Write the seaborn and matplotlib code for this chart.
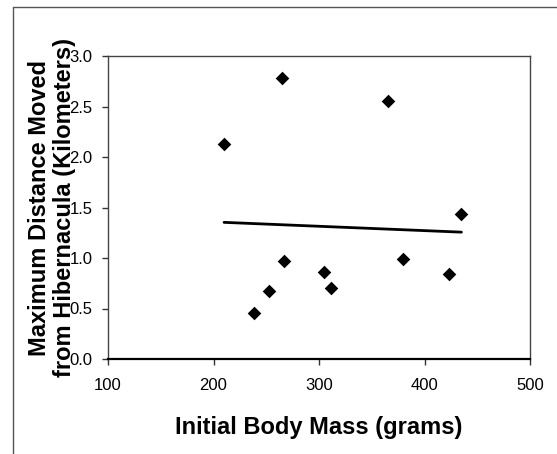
import matplotlib
matplotlib.use("Agg")
import matplotlib.pyplot as plt
from matplotlib.lines import Line2D
import seaborn as sns
import pandas as pd
import numpy as np

# Data
body_mass = [210, 265, 365, 435, 267, 305, 253, 238, 311, 380, 423]
max_distance = [2.13, 2.78, 2.55, 1.44, 0.97, 0.86, 0.67, 0.46, 0.70, 0.99, 0.84]
x_ticks = [100, 200, 300, 400, 500]
y_ticks = [0.0, 0.5, 1.0, 1.5, 2.0, 2.5, 3.0]

df = pd.DataFrame({"mass": body_mass, "dist": max_distance})

sns.set_theme(style="white")
plt.rcParams['font.family'] = ['Liberation Sans', 'DejaVu Sans']

W, H = 557, 454
fig = plt.figure(figsize=(W / 100, H / 100), dpi=100)
ax = fig.add_axes([108 / W, 1 - 359 / H, (530 - 108) / W, (359 - 56) / H])

sns.regplot(data=df, x="mass", y="dist", scatter=False, ci=None, ax=ax,
            line_kws=dict(color="black", lw=2.0))
sns.scatterplot(data=df, x="mass", y="dist", marker="D", s=48, color="black",
                edgecolor="black", linewidth=0, ax=ax, zorder=3)

ax.set_xlim(100, 500)
ax.set_ylim(0, 3.0)
ax.set_xticks(x_ticks)
ax.set_yticks(y_ticks)
ax.set_xticklabels([str(v) for v in x_ticks])
ax.set_yticklabels([f"{v:.1f}" for v in y_ticks])
ax.tick_params(axis="both", direction="out", length=4, width=1, color="#333333",
               labelsize=12, labelcolor="black", left=True, bottom=True)
ax.tick_params(axis="x", pad=10)
ax.tick_params(axis="y", pad=7)

for side in ["top", "right", "left"]:
    ax.spines[side].set_visible(True)
    ax.spines[side].set_color("#444444")
    ax.spines[side].set_linewidth(1.0)
ax.spines["bottom"].set_color("black")
ax.spines["bottom"].set_linewidth(1.6)

ax.set_xlabel("Initial Body Mass (grams)", fontsize=17, fontweight="bold",
              labelpad=16.5, color="black")
ax.set_ylabel("Maximum Distance Moved\nfrom Hibernacula (Kilometers)",
              fontsize=17, fontweight="bold", color="black", linespacing=1.1)
ax.yaxis.set_label_coords(-(108 - 76) / 422, 0.5)

# outer frame lines (partial border of the original figure)
fig.add_artist(Line2D([13 / W, 13 / W], [0, 1 - 7 / H], transform=fig.transFigure,
                      color="#555555", lw=1))
fig.add_artist(Line2D([13 / W, 1], [1 - 7 / H, 1 - 7 / H], transform=fig.transFigure,
                      color="#555555", lw=1))

fig.savefig("out.png", dpi=100)
